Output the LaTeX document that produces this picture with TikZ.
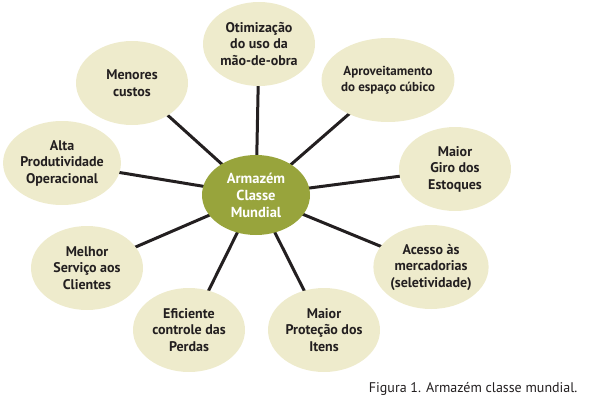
\documentclass[tikz,border=0pt]{standalone}
\usepackage{fontspec}
\setmainfont{PT Sans}
\usetikzlibrary{shapes.geometric}
\definecolor{beige}{HTML}{EEEBCC}
\definecolor{olive}{HTML}{98A43C}
\definecolor{txt}{HTML}{231F20}
\begin{document}
\begin{tikzpicture}[x=1pt,y=-1pt,
  leaf/.style={ellipse,fill=beige,minimum width=112pt,minimum height=84pt,inner sep=0pt,
    align=center,font=\bfseries\fontsize{14}{16.5}\selectfont,text=txt},
  hub/.style={ellipse,fill=olive,minimum width=108pt,minimum height=80pt,inner sep=0pt,
    align=center,font=\bfseries\fontsize{14.5}{17}\selectfont,text=white},
  spoke/.style={line width=3pt,draw=txt}]
\useasboundingbox (0,0) rectangle (596,412);
\coordinate (hc) at (256,195);
\coordinate (c1) at (259,44);
\coordinate (c2) at (132,83);
\coordinate (c3) at (388,80);
\coordinate (c4) at (62,163);
\coordinate (c5) at (455,169);
\coordinate (c6) at (87,268);
\coordinate (c7) at (431,267);
\coordinate (c8) at (189,330);
\coordinate (c9) at (324,330);
\foreach \i in {1,...,9} \draw[spoke] (hc) -- (c\i);
\node[leaf] (n1) at (c1) {Otimização\\do uso da\\mão-de-obra};
\node[leaf] (n2) at (c2) {Menores\\custos};
\node[leaf,font=\bfseries\fontsize{13}{16}\selectfont] (n3) at (c3) {Aproveitamento\\do espaço cúbico};
\node[leaf] (n4) at (c4) {Alta\\Produtividade\\Operacional};
\node[leaf] (n5) at (c5) {Maior\\Giro dos\\Estoques};
\node[leaf] (n6) at (c6) {Melhor\\Serviço aos\\Clientes};
\node[leaf] (n7) at (c7) {Acesso às\\mercadorias\\(seletividade)};
\node[leaf] (n8) at (c8) {Eficiente\\controle das\\Perdas};
\node[leaf] (n9) at (c9) {Maior\\Proteção dos\\Itens};
\node[hub] (h) at (hc) {Armazém\\Classe\\Mundial};
\node[anchor=east,font=\fontsize{14}{16}\selectfont,text=txt] (cap) at (581,389) {Figura 1. Armazém classe mundial.};
\end{tikzpicture}
\end{document}
